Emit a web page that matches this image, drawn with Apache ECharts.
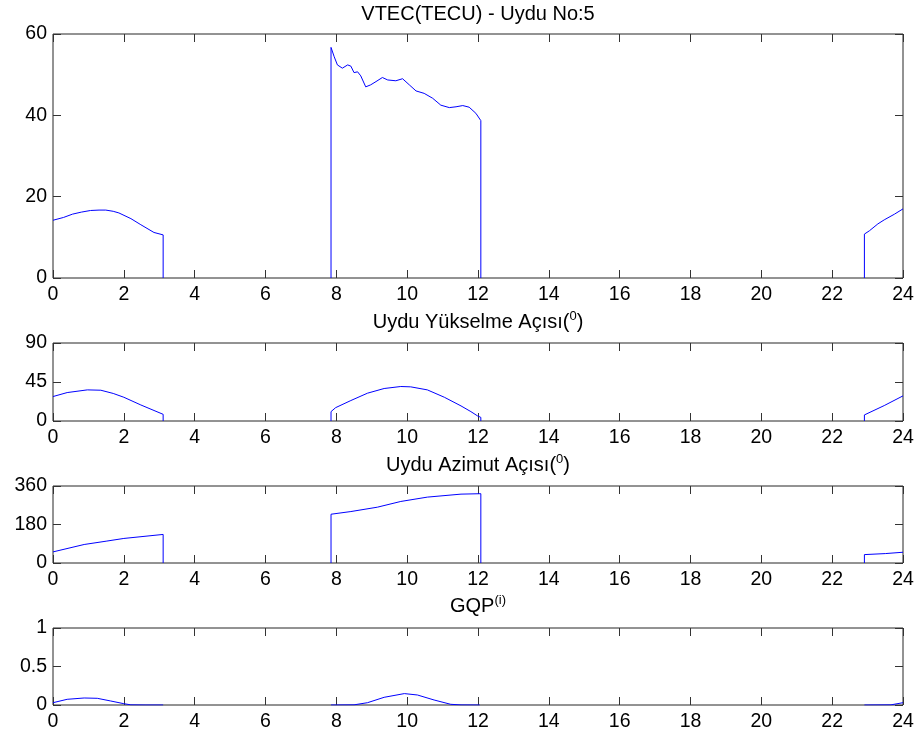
<!DOCTYPE html>
<html>
<head>
<meta charset="utf-8">
<script src="https://cdn.jsdelivr.net/npm/echarts@6/dist/echarts.min.js"></script>
<style>
  html, body { margin: 0; padding: 0; background: #fff; }
  #chart { width: 920px; height: 742px; }
</style>
</head>
<body>
<div id="chart"></div>
<script>
// Hours of day (UT) shared by all four panels
const hourTicks = [0, 2, 4, 6, 8, 10, 12, 14, 16, 18, 20, 22, 24];

// VTEC (TECU) for satellite 5; null marks the gaps between passes
const vtecHours = [0, 0.3, 0.55, 0.8, 1.06, 1.3, 1.49, 1.7, 1.86, 2.2, 2.48, 2.85, 3.11, 3.11,
  5.5,
  7.85, 7.85, 7.94, 8.03, 8.17, 8.32, 8.41, 8.5, 8.6, 8.69, 8.83, 8.97, 9.12, 9.3, 9.45, 9.68, 9.87,
  10.06, 10.25, 10.48, 10.72, 10.95, 11.19, 11.38, 11.57, 11.75, 11.94, 12.08, 12.08,
  17,
  22.91, 22.91, 23.05, 23.29, 23.47, 23.76, 24];
const vtecValues = [14.2, 14.9, 15.7, 16.2, 16.6, 16.7, 16.7, 16.4, 16.0, 14.6, 13.1, 11.2, 10.6, 0,
  null,
  0, 56.7, 54.4, 52.4, 51.6, 52.4, 52.1, 50.5, 50.7, 49.7, 47.0, 47.5, 48.3, 49.3, 48.7, 48.5, 49.0,
  47.5, 46.0, 45.4, 44.2, 42.5, 41.9, 42.1, 42.4, 42.0, 40.5, 38.7, 0,
  null,
  0, 10.8, 11.6, 13.3, 14.3, 15.7, 17.0];

// Satellite elevation angle (degrees)
const elevHours = [0, 0.4, 0.97, 1.35, 1.7, 2.0, 2.48, 3.11, 3.11,
  5.5,
  7.85, 7.85, 7.98, 8.41, 8.88, 9.35, 9.82, 10.1, 10.57, 11.05, 11.52, 11.8, 11.99, 12.08, 12.08,
  17,
  22.91, 22.91, 23.47, 24];
const elevValues = [28.2, 32.8, 35.9, 35.5, 31.8, 27.4, 18.5, 7.7, 0,
  null,
  0, 10.8, 15.4, 23.6, 32.1, 37.5, 39.8, 39.4, 35.9, 27.4, 17.4, 10.8, 5.8, 4.2, 0,
  null,
  0, 7.0, 17.8, 29.0];

// Satellite azimuth angle (degrees)
const azimHours = [0, 0.88, 1.5, 2.0, 3.11, 3.11,
  5.5,
  7.85, 7.85, 8.41, 9.16, 9.82, 10.57, 11.52, 12.08, 12.08,
  17,
  22.91, 22.91, 23.5, 24];
const azimValues = [51.9, 86.5, 102, 114.8, 133.6, 0,
  null,
  0, 228, 240.5, 261, 287.7, 308, 322, 324, 0,
  null,
  0, 39.3, 44, 50.3];

// GQP values
const gqpHours = [0, 0.4, 0.88, 1.25, 1.63, 2.0, 2.2, 2.6, 3.11,
  5.5,
  7.85, 8.5, 8.88, 9.35, 9.92, 10.29, 10.76, 11.23, 11.52, 12.05,
  17,
  22.91, 23.66, 24];
const gqpValues = [0.03, 0.074, 0.091, 0.087, 0.052, 0.017, 0.002, 0, 0,
  null,
  0, 0.002, 0.03, 0.1, 0.148, 0.13, 0.065, 0.009, 0.001, 0,
  null,
  0, 0.002, 0.03];

// Y-axis ranges of the panels
const yRanges = [
  { min: 0, max: 60, interval: 20 },
  { min: 0, max: 90, interval: 45 },
  { min: 0, max: 360, interval: 180 },
  { min: 0, max: 1, interval: 0.5 }
];

const FONT = 'Liberation Sans, Arial, Helvetica, sans-serif';
const panels = [
  { top: 34, height: 244, hours: vtecHours, values: vtecValues },
  { top: 343, height: 78, hours: elevHours, values: elevValues },
  { top: 486, height: 77, hours: azimHours, values: azimValues },
  { top: 628, height: 77, hours: gqpHours, values: gqpValues }
];

const zip = (xs, ys) => xs.map((x, i) => [x, ys[i]]);

const grid = [], xAxis = [], yAxis = [], series = [];
const tickStyle = { color: '#333', width: 1 };
const labelStyle = { color: '#000', fontSize: 19.5, fontFamily: FONT };
const hiddenLine = { show: false, onZero: false };

panels.forEach((p, i) => {
  grid.push({
    left: 53, right: 17, top: p.top, height: p.height,
    show: true, borderColor: '#262626', borderWidth: 1, backgroundColor: '#fff'
  });
  const xBase = {
    gridIndex: i, type: 'value', min: 0, max: 24, interval: 2,
    axisLine: hiddenLine, splitLine: { show: false },
    axisTick: { inside: true, length: 8, lineStyle: tickStyle }
  };
  xAxis.push(Object.assign({}, xBase, {
    position: 'bottom',
    axisLabel: Object.assign({ margin: 7, formatter: v => hourTicks.includes(v) ? String(v) : '' }, labelStyle)
  }));
  xAxis.push(Object.assign({}, xBase, { position: 'top', axisLabel: { show: false } }));
  const r = yRanges[i];
  const yBase = {
    gridIndex: i, type: 'value', min: r.min, max: r.max, interval: r.interval,
    axisLine: hiddenLine, splitLine: { show: false },
    axisTick: { inside: true, length: 8, lineStyle: tickStyle }
  };
  yAxis.push(Object.assign({}, yBase, {
    position: 'left',
    axisLabel: Object.assign({ margin: 6 }, labelStyle)
  }));
  yAxis.push(Object.assign({}, yBase, { position: 'right', axisLabel: { show: false } }));
  series.push({
    type: 'line', xAxisIndex: 2 * i, yAxisIndex: 2 * i,
    data: zip(p.hours, p.values),
    showSymbol: false, connectNulls: false,
    lineStyle: { color: '#0000ff', width: 1 },
    itemStyle: { color: '#0000ff' },
    emphasis: { disabled: true }
  });
});

const titleStyle = { fill: '#000', fontSize: 20, fontFamily: FONT, align: 'center', verticalAlign: 'middle' };
const supRich = { s: { fontSize: 13, fontFamily: FONT, verticalAlign: 'top', lineHeight: 24 } };
const titles = [
  { y: 14, text: 'VTEC(TECU) - Uydu No:5' },
  { y: 322, text: 'Uydu Yükselme Açısı({s|0})' },
  { y: 465, text: 'Uydu Azimut Açısı({s|0})' },
  { y: 606, text: 'GQP{s|(i)}' }
];

const chart = echarts.init(document.getElementById('chart'), null, { renderer: 'canvas' });
chart.setOption({
  animation: false,
  backgroundColor: '#fff',
  grid, xAxis, yAxis, series,
  graphic: titles.map(t => ({
    type: 'text', x: 478, y: t.y, silent: true,
    style: Object.assign({ text: t.text, rich: supRich, lineHeight: 24 }, titleStyle)
  }))
});
</script>
</body>
</html>
